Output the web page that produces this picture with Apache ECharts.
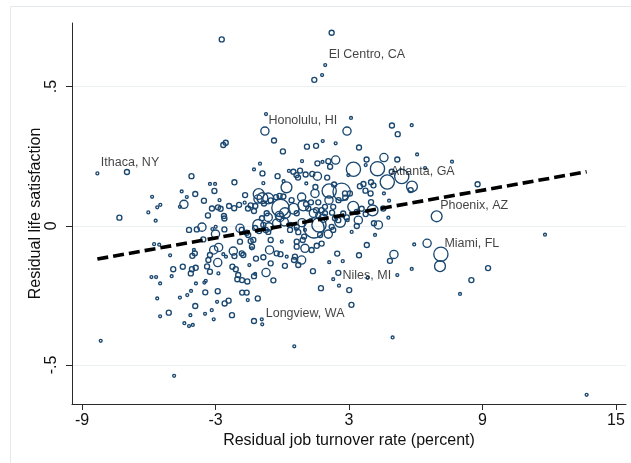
<!DOCTYPE html>
<html>
<head>
<meta charset="utf-8">
<script src="https://cdn.jsdelivr.net/npm/echarts@6/dist/echarts.min.js"></script>
<style>
  html, body { margin: 0; padding: 0; background: #fff; }
  #chart { width: 631px; height: 463px; }
</style>
</head>
<body>
<div id="chart"></div>
<script>
// Residual job turnover rate (percent points) for each metro area
const turnover = [
  -2.72, 2.22, 1.93, 1.79, 1.44, -0.73, -0.78, -0.37, -2.65, -2.54,
  0.03, 1.11, 1.52, 3.09, 2.91, 4.93, 5.82, 5.19, 1.82, 2.40,
  3.45, 6.06, 7.63, -8.31, -6.98, -4.08, -7.32, -8.16, -4.86, 0.54,
  13.68, 11.81, 8.78, 6.94, 7.13, 7.09, 6.51, 9.25, 8.50, 7.99,
  4.96, 3.11, 6.42, -1.00, -1.27, -0.89, -0.85, -0.21, 0.30, 0.64,
  0.71, 0.80, 0.89, 1.58, 1.81, 2.15, 2.07, 2.40, 3.79, 3.75,
  4.57, 5.17, 3.20, 4.28, 4.72, 5.37, 4.92, 5.83, 5.77, 4.57,
  4.80, -2.15, -3.25, -3.02, -3.05, -4.52, -4.29, -3.91, -3.52, -2.82,
  -1.67, -1.06, -0.89, -1.09, -0.63, -0.28, -0.12, 0.05, 0.19, 0.06,
  1.08, 1.05, 1.35, 1.58, 2.02, 1.49, 0.87, 0.42, 1.47, 2.11,
  2.67, 2.33, 2.82, 3.04, 2.53, 2.10, 3.65, 3.99, 4.10, 3.74,
  3.97, -5.85, -6.02, -5.69, -5.62, -5.48, -4.60, -4.42, -3.34, -3.16,
  -2.89, -2.77, -2.62, -2.60, -2.39, -2.16, -1.94, -1.69, -1.54, -1.42,
  -1.21, -1.27, -0.82, -0.70, -0.52, -0.08, 0.12, -0.13, 0.51, 0.95,
  1.07, 1.29, 1.62, 1.17, 0.65, 1.52, 1.77, 1.92, 2.29, 1.92,
  2.24, 2.37, 2.52, 2.74, 2.90, 2.60, 3.19, 3.57, 3.35, 3.75,
  3.99, 4.06, 4.54, 3.42, 3.35, 4.12, 4.32, 4.77, 2.94, 3.12,
  4.17, -0.91, -0.63, -0.10, -0.60, -0.25, 0.09, 0.35, 0.65, 0.89,
  1.43, 1.65, 1.84, 2.22, 2.29, 1.70, 2.07, 1.02, 0.35, 0.72,
  0.98, 0.62, -0.85, -0.74, -1.22, -1.04, -1.82, -1.60, -1.90, -1.53,
  -1.08, -0.63, -4.19, -3.84, -3.61, -3.14, -3.00, -2.60, -3.55, -2.99,
  -5.76, -5.53, -5.04, -4.47, -4.90, -4.97, -5.88, -5.67, -5.49, -5.62,
  -5.49, -5.10, -4.60, -4.27, -4.10, -3.91, -4.13, -4.40, -4.19, -4.02,
  -3.46, -3.47, -3.08, -2.90, -2.93, -2.59, -2.41, -2.26, -1.80, -1.60,
  -1.55, -1.10, -1.27, -0.92, -0.90, -4.04, -3.93, -4.06, -3.89, -3.44,
  -3.50, -3.88, -3.38, -3.25, -3.32, -3.25, -3.08, -2.86, -2.90, -2.87,
  -2.65, -2.53, -2.24, -2.09, -2.20, -2.15, -1.90, -1.75, -1.42, -1.36,
  -1.18, -1.48, -2.02, -1.81, -1.57, -1.27, -0.85, -0.57, -0.52, -0.25,
  -0.08, 0.12, 0.57, 0.87, -0.73, -0.40, 1.38, 0.20, 0.72, -0.52,
  -0.02, 0.65, 0.92, 1.02, 1.32, 1.55, 1.77, -1.30, -1.37, -3.97,
  -1.82, -4.11, -1.98, -1.22, -3.17, 3.80, 5.93, 2.47, 3.45, 2.72,
  2.11, 5.02, 4.84, 2.52, 2.29, 5.82, 5.17, 3.84, 1.74, 2.55,
  3.01, 0.65, 0.53, 2.97, 3.49, 1.62, 0.50, 2.83, 1.40
];

// Residual life satisfaction for each metro area
const satisfaction = [
  0.669, 0.693, 0.577, 0.541, 0.524, 0.401, 0.340, 0.306, 0.290, 0.298,
  0.267, 0.284, 0.287, 0.387, 0.340, 0.360, 0.361, 0.329, 0.304, 0.296,
  0.281, 0.256, 0.230, 0.188, 0.193, 0.178, 0.029, -0.413, -0.539, -0.433,
  -0.607, -0.032, 0.149, 0.034, -0.102, -0.145, -0.063, -0.152, -0.195, -0.245,
  -0.401, -0.284, 0.207, 0.223, 0.202, 0.188, 0.153, 0.178, 0.197, 0.182,
  0.173, 0.198, 0.232, 0.224, 0.229, 0.212, 0.232, 0.236, 0.238, 0.218,
  0.245, 0.238, 0.203, 0.205, 0.157, 0.177, 0.194, 0.141, 0.128, 0.116,
  0.090, 0.156, 0.150, 0.150, 0.125, 0.123, 0.103, 0.114, 0.090, 0.092,
  0.110, 0.114, 0.099, 0.096, 0.098, 0.103, 0.107, 0.105, 0.138, 0.160,
  0.152, 0.184, 0.186, 0.178, 0.173, 0.139, 0.103, 0.092, 0.116, 0.125,
  0.122, 0.148, 0.116, 0.116, 0.092, 0.092, 0.150, 0.156, 0.145, 0.126,
  0.116, 0.104, 0.048, 0.018, 0.066, 0.075, 0.068, 0.077, 0.037, 0.062,
  0.066, 0.061, 0.035, 0.026, 0.071, 0.063, 0.075, 0.083, 0.062, 0.073,
  0.071, 0.053, 0.080, 0.045, 0.091, 0.064, 0.045, 0.037, 0.061, 0.073,
  0.078, 0.084, 0.084, 0.062, 0.045, 0.056, 0.056, 0.045, 0.068, 0.068,
  0.047, 0.027, 0.020, 0.044, 0.030, 0.014, 0.068, 0.061, 0.050, 0.042,
  0.085, 0.055, 0.062, 0.020, -0.001, 0.009, 0.003, 0.029, 0.020, -0.022,
  -0.033, 0.027, 0.030, 0.030, -0.004, 0.009, 0.014, 0.003, -0.004, 0.011,
  -0.008, 0.003, 0.027, -0.004, -0.015, -0.033, -0.030, -0.015, -0.015, -0.023,
  -0.039, -0.012, 0.003, -0.015, -0.008, -0.019, -0.015, -0.025, -0.009, -0.033,
  0.003, -0.022, -0.015, -0.013, -0.005, -0.012, -0.030, -0.013, -0.049, -0.004,
  -0.066, -0.068, -0.106, -0.147, -0.156, -0.181, -0.184, -0.184, -0.207, -0.261,
  -0.325, -0.312, -0.258, -0.249, -0.234, -0.288, -0.321, -0.350, -0.360, -0.356,
  -0.239, -0.316, -0.336, -0.235, -0.273, -0.279, -0.269, -0.321, -0.240, -0.240,
  -0.267, -0.261, -0.342, -0.336, -0.354, -0.108, -0.099, -0.156, -0.151, -0.198,
  -0.204, -0.207, -0.146, -0.165, -0.123, -0.105, -0.087, -0.078, -0.132, -0.171,
  -0.102, -0.111, -0.147, -0.156, -0.091, -0.109, -0.057, -0.105, -0.055, -0.075,
  -0.118, -0.141, -0.192, -0.195, -0.200, -0.181, -0.113, -0.087, -0.135, -0.099,
  -0.102, -0.144, -0.111, -0.123, -0.168, -0.196, -0.163, -0.111, -0.141, -0.051,
  -0.057, -0.057, -0.051, -0.081, -0.087, -0.072, -0.064, -0.051, -0.081, -0.087,
  -0.099, -0.171, -0.177, -0.173, -0.303, -0.069, -0.067, -0.100, -0.106, -0.127,
  -0.131, -0.103, -0.126, -0.169, -0.192, -0.155, -0.177, -0.187, -0.224, -0.215,
  -0.231, -0.075, -0.123, 0.182, 0.142, 0.038, 0.194, 0.101, 0.045
];

// Population weight of each metro area (hundreds of thousands)
const population = [
  3, 3, 1, 1, 3, 1, 8, 3, 3, 3,
  3, 3, 3, 1, 8, 3, 1, 3, 1, 1,
  3, 1, 1, 1, 3, 3, 3, 1, 1, 1,
  1, 1, 3, 14, 24, 14, 8, 3, 3, 1,
  1, 3, 1, 1, 1, 3, 1, 3, 1, 3,
  3, 3, 1, 3, 1, 3, 3, 8, 3, 1,
  8, 3, 24, 24, 24, 24, 3, 14, 3, 1,
  1, 3, 1, 1, 3, 1, 1, 3, 3, 1,
  3, 14, 14, 8, 14, 3, 3, 3, 14, 1,
  1, 3, 3, 8, 3, 3, 8, 3, 8, 24,
  36, 3, 3, 3, 3, 8, 3, 3, 3, 3,
  3, 1, 1, 1, 1, 1, 1, 8, 3, 3,
  3, 3, 3, 3, 3, 3, 3, 1, 3, 3,
  3, 3, 3, 3, 3, 36, 14, 8, 14, 14,
  3, 3, 3, 3, 3, 3, 3, 3, 3, 3,
  3, 3, 3, 3, 3, 14, 14, 3, 3, 3,
  3, 14, 3, 8, 3, 3, 8, 1, 1, 1,
  1, 3, 8, 8, 8, 8, 8, 3, 3, 8,
  48, 24, 8, 3, 3, 3, 8, 1, 3, 3,
  3, 1, 3, 3, 3, 3, 3, 3, 8, 3,
  14, 3, 3, 3, 8, 1, 8, 3, 3, 1,
  1, 1, 1, 3, 3, 1, 1, 1, 1, 1,
  1, 3, 1, 1, 1, 3, 1, 1, 1, 1,
  3, 1, 1, 3, 1, 3, 3, 3, 3, 3,
  1, 3, 3, 1, 1, 3, 3, 3, 3, 1,
  1, 1, 3, 3, 3, 3, 8, 8, 8, 1,
  1, 1, 3, 3, 8, 3, 3, 3, 3, 3,
  3, 1, 3, 3, 3, 3, 3, 8, 3, 3,
  3, 3, 3, 8, 8, 3, 3, 1, 3, 3,
  1, 3, 3, 8, 3, 3, 3, 3, 1, 1,
  3, 3, 3, 1, 1, 3, 1, 3, 3, 1,
  1, 8, 3, 3, 1, 1, 1, 1, 3, 1,
  3, 3, 3, 1, 3, 3, 3, 3, 8
];

// Named metro areas
const cityNames = ['El Centro, CA', 'Honolulu, HI', 'Ithaca, NY', 'Atlanta, GA',
                   'Phoenix, AZ', 'Miami, FL', 'Niles, MI', 'Longview, WA'];
const cityTurnover = [1.93, -0.78, -8.31, 4.72, 6.94, 7.13, 2.55, -0.90];
const citySatisfaction = [0.577, 0.340, 0.188, 0.157, 0.034, -0.102, -0.215, -0.354];

// Weighted linear fit, drawn across the observed turnover range
const fitTurnover = [-8.31, 13.68];
const fitSatisfaction = [-0.1195, 0.194];

// Axis ticks
const xTicks = [-9, -3, 3, 9, 15];
const yTicks = [-0.5, 0, 0.5];

const X_MIN = -9.45, X_MAX = 15.45;
const Y_MIN = -0.64, Y_MAX = 0.728;

const W = 631, H = 463;
const plot = { left: 72, right: 5, top: 23, bottom: 59 };
const pxX = (W - plot.left - plot.right) / (X_MAX - X_MIN);
const pxY = (H - plot.top - plot.bottom) / (Y_MAX - Y_MIN);

const NAVY = '#1a476f';
const FONT = '"Liberation Sans", Arial, Helvetica, sans-serif';

const fmtY = v => v === 0 ? '0' : (v < 0 ? '-' : '') + String(Math.abs(v)).replace(/^0/, '');

const points = turnover.map((x, i) => [x, satisfaction[i], population[i]]);
const cities = cityNames.map((n, i) => ({ name: n, value: [cityTurnover[i], citySatisfaction[i]] }));
const fit = fitTurnover.map((x, i) => [x, fitSatisfaction[i]]);

const chart = echarts.init(document.getElementById('chart'), null, { renderer: 'canvas' });

chart.setOption({
  animation: false,
  backgroundColor: '#ffffff',
  graphic: [{
    type: 'rect', silent: true, z: -10,
    shape: { x: 10.5, y: 6.5, width: 700, height: 600 },
    style: { fill: 'none', stroke: '#e2eaed', lineWidth: 1 }
  }],
  grid: [
    // data area
    { left: plot.left, right: plot.right, top: plot.top, bottom: plot.bottom },
    // x tick scale
    { left: plot.left + (xTicks[0] - X_MIN) * pxX,
      right: plot.right + (X_MAX - xTicks[xTicks.length - 1]) * pxX,
      top: plot.top, bottom: plot.bottom },
    // y tick scale
    { left: plot.left, right: plot.right,
      top: plot.top + (Y_MAX - yTicks[yTicks.length - 1]) * pxY,
      bottom: plot.bottom + (yTicks[0] - Y_MIN) * pxY }
  ],
  xAxis: [
    { gridIndex: 0, type: 'value', min: X_MIN, max: X_MAX,
      axisLine: { show: true, onZero: false, lineStyle: { color: '#2a2a2a', width: 1 } },
      axisTick: { show: false }, axisLabel: { show: false }, splitLine: { show: false },
      name: 'Residual job turnover rate (percent)', nameLocation: 'middle', nameGap: 29,
      nameTextStyle: { fontSize: 16, color: '#111', fontFamily: FONT } },
    { gridIndex: 1, type: 'value', min: xTicks[0], max: xTicks[xTicks.length - 1], interval: 6,
      axisLine: { show: false, onZero: false },
      axisTick: { show: true, length: 6, lineStyle: { color: '#2a2a2a', width: 1 } },
      axisLabel: { show: true, margin: 9, fontSize: 16, color: '#111', fontFamily: FONT },
      splitLine: { show: false } },
    { gridIndex: 2, type: 'value', min: 0, max: 1, show: false }
  ],
  yAxis: [
    { gridIndex: 0, type: 'value', min: Y_MIN, max: Y_MAX,
      axisLine: { show: true, onZero: false, lineStyle: { color: '#2a2a2a', width: 1 } },
      axisTick: { show: false }, axisLabel: { show: false }, splitLine: { show: false },
      name: 'Residual life satisfaction', nameLocation: 'middle', nameGap: 28, nameRotate: 90,
      nameTextStyle: { fontSize: 16, color: '#111', fontFamily: FONT } },
    { gridIndex: 1, type: 'value', min: 0, max: 1, show: false },
    { gridIndex: 2, type: 'value', min: yTicks[0], max: yTicks[yTicks.length - 1], interval: 0.5,
      axisLine: { show: false, onZero: false },
      axisTick: { show: true, length: 6, lineStyle: { color: '#2a2a2a', width: 1 } },
      axisLabel: { show: true, rotate: 90, margin: 12, fontSize: 16, color: '#111',
                   fontFamily: FONT, formatter: fmtY },
      splitLine: { show: true, lineStyle: { color: '#e8f0f2', width: 1 } } }
  ],
  series: [
    { type: 'scatter', xAxisIndex: 0, yAxisIndex: 0, silent: true, z: 3,
      data: points,
      symbol: 'circle',
      symbolSize: d => 2.9 * Math.sqrt(d[2]),
      itemStyle: { color: 'rgba(255,255,255,0)', borderColor: NAVY, borderWidth: 1.35, opacity: 1 } },
    { type: 'line', xAxisIndex: 0, yAxisIndex: 0, silent: true, z: 5,
      data: fit, symbol: 'none',
      lineStyle: { color: '#000', width: 3.6, type: [11, 5], cap: 'butt' } },
    { type: 'scatter', xAxisIndex: 0, yAxisIndex: 0, silent: true, z: 6,
      data: cities, symbolSize: 1,
      itemStyle: { color: 'rgba(0,0,0,0)' },
      label: { show: true, formatter: p => p.name, position: [4, -10],
               align: 'left', verticalAlign: 'middle',
               fontSize: 12.5, color: '#111', fontFamily: FONT } }
  ]
});
</script>
</body>
</html>
